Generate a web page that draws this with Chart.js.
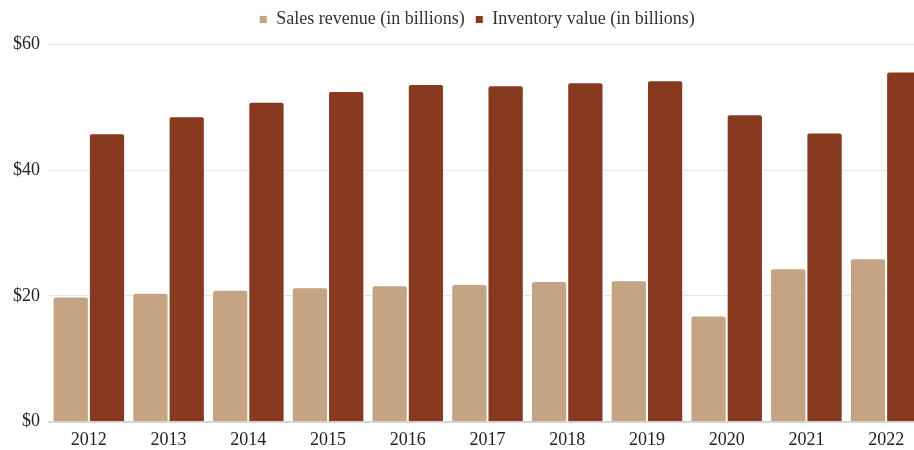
<!DOCTYPE html>
<html>
<head>
<meta charset="utf-8">
<script src="https://cdn.jsdelivr.net/npm/chart.js@4.4.1/dist/chart.umd.min.js"></script>
<style>
  html, body { margin: 0; padding: 0; background: #fff; overflow: hidden; }
  #wrap { position: relative; width: 954px; height: 450px; }
</style>
</head>
<body>
<div id="wrap"><canvas id="salesChart"></canvas></div>
<script>
const years = ['2012', '2013', '2014', '2015', '2016', '2017', '2018', '2019', '2020', '2021', '2022'];
const salesRevenue = [19.9, 20.5, 21.0, 21.4, 21.7, 21.9, 22.4, 22.5, 16.9, 24.4, 26.0];
const inventoryValue = [45.9, 48.6, 50.9, 52.6, 53.7, 53.5, 54.0, 54.3, 48.9, 46.0, 55.7];
const yTicks = [0, 20, 40, 60];

const FONT = "'Liberation Serif', 'DejaVu Serif', serif";

// legend: a little extra room underneath, and centred over the page rather than the plot
const legendTweak = {
    id: 'legendTweak',
    beforeLayout(chart) {
        const lg = chart.legend;
        if (lg && !lg._tweaked) {
            const fit = lg.fit.bind(lg);
            lg.fit = function () { fit(); this.height += 6; };
            lg._tweaked = true;
        }
    },
    afterLayout(chart) {
        const dx = 12;
        chart.legend.left += dx;
        chart.legend.right += dx;
    }
};

function createChart(ctx) {
    return new Chart(ctx, {
        type: 'bar',
        data: {
            labels: years,
            datasets: [
                { label: 'Sales revenue (in billions)', data: salesRevenue, backgroundColor: '#c4a482',
                  borderColor: 'rgba(255,255,255,0.9)', borderWidth: 1, borderRadius: 3, borderSkipped: 'bottom' },
                { label: 'Inventory value (in billions)', data: inventoryValue, backgroundColor: '#883a20',
                  borderColor: 'rgba(255,255,255,0.9)', borderWidth: 1, borderRadius: 3, borderSkipped: 'bottom' }
            ]
        },
        options: {
            responsive: true,
            maintainAspectRatio: false,
            animation: false,
            layout: { padding: { left: 4, right: 28, top: 0, bottom: 0 } },
            datasets: { bar: { categoryPercentage: 0.91, barPercentage: 1.0 } },
            plugins: {
                legend: {
                    position: 'top',
                    labels: { boxWidth: 8, boxHeight: 8, padding: 10.5, color: '#333', font: { family: FONT, size: 18 } }
                },
                tooltip: { enabled: false }
            },
            scales: {
                x: {
                    afterFit(axis) { axis.height = 28.3; },
                    grid: { display: false, drawTicks: false },
                    border: { color: '#d6d6d6', width: 2 },
                    ticks: { color: '#222', padding: 8, font: { family: FONT, size: 18 } }
                },
                y: {
                    min: 0,
                    max: 60,
                    afterBuildTicks(axis) { axis.ticks = yTicks.map(v => ({ value: v })); },
                    grid: { color: '#e6e6e6', drawTicks: false },
                    border: { display: false },
                    ticks: { color: '#222', padding: 9, font: { family: FONT, size: 18 }, callback: v => '$' + v }
                }
            }
        },
        plugins: [legendTweak]
    });
}

createChart(document.getElementById('salesChart').getContext('2d'));
</script>
</body>
</html>
